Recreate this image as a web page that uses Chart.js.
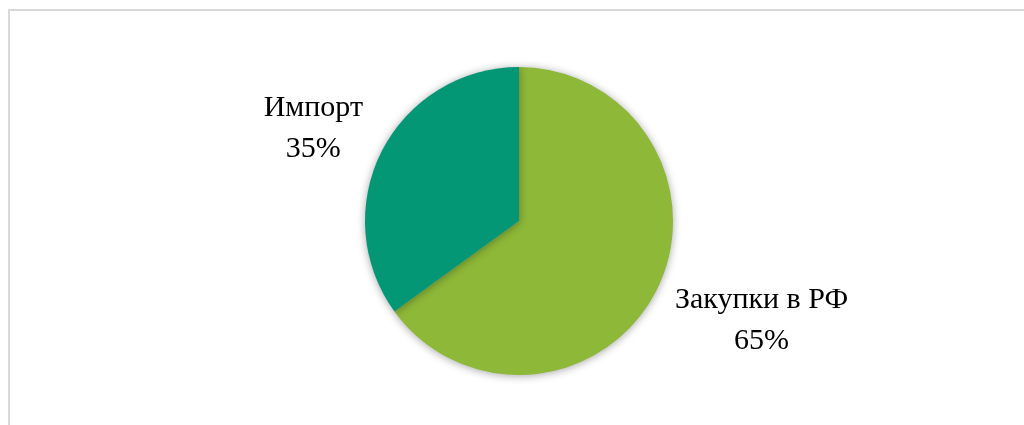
<!DOCTYPE html>
<html>
<head>
<meta charset="utf-8">
<script src="https://cdn.jsdelivr.net/npm/chart.js@4/dist/chart.umd.min.js"></script>
<style>
  body { margin: 0; background: #fff; overflow: hidden; }
  #frame {
    position: absolute; left: 8px; top: 9px;
    width: 1100px; height: 500px;
    border: 2px solid #d9d9d9;
  }
  #wrap { position: absolute; left: 0; top: 0; width: 1024px; height: 425px; }
</style>
</head>
<body>
<div id="frame"></div>
<div id="wrap"><canvas id="pie"></canvas></div>
<script>
const labels = ['Закупки в РФ', 'Импорт'];
const shares = [65, 35];
const colors = ['#8db838', '#039776'];

// soft glow around the pie, like an office chart
const shadowPlugin = {
    id: 'pieShadow',
    beforeDatasetDraw(chart) {
        const ctx = chart.ctx;
        ctx.save();
        ctx.shadowColor = 'rgba(0,0,0,0.35)';
        ctx.shadowBlur = 9;
        ctx.shadowOffsetX = 0;
        ctx.shadowOffsetY = 1;
    },
    afterDatasetDraw(chart) {
        chart.ctx.restore();
    }
};

// category name + percent, placed outside each slice
const outsideLabels = {
    id: 'outsideLabels',
    afterDatasetsDraw(chart) {
        const ctx = chart.ctx;
        const meta = chart.getDatasetMeta(0);
        ctx.save();
        ctx.font = '30px "Liberation Serif", "Times New Roman", serif';
        ctx.fillStyle = '#000';
        ctx.textBaseline = 'middle';
        const lineH = 41;
        meta.data.forEach((arc, i) => {
            const p = arc.getProps(['x', 'y', 'startAngle', 'endAngle', 'outerRadius'], true);
            const mid = (p.startAngle + p.endAngle) / 2;
            const dx = Math.cos(mid), dy = Math.sin(mid);
            const d = p.outerRadius + 21;
            const ax = p.x + dx * d;
            let ay = p.y + dy * d;
            const lines = [labels[i], shares[i] + '%'];
            const w = Math.max(...lines.map(t => ctx.measureText(t).width));
            const cx = dx >= 0 ? ax + w / 2 : ax - w / 2;
            ay += dy >= 0 ? 0 : -33;
            ctx.textAlign = 'center';
            lines.forEach((t, k) => ctx.fillText(t, cx, ay + k * lineH));
        });
        ctx.restore();
    }
};

new Chart(document.getElementById('pie'), {
    type: 'pie',
    data: {
        labels: labels,
        datasets: [{
            data: shares,
            backgroundColor: colors,
            borderWidth: 0,
            hoverOffset: 0
        }]
    },
    options: {
        responsive: true,
        maintainAspectRatio: false,
        animation: false,
        layout: { padding: { top: 67, bottom: 50, left: 200, right: 186 } },
        plugins: {
            legend: { display: false },
            tooltip: { enabled: false }
        }
    },
    plugins: [shadowPlugin, outsideLabels]
});
</script>
</body>
</html>
